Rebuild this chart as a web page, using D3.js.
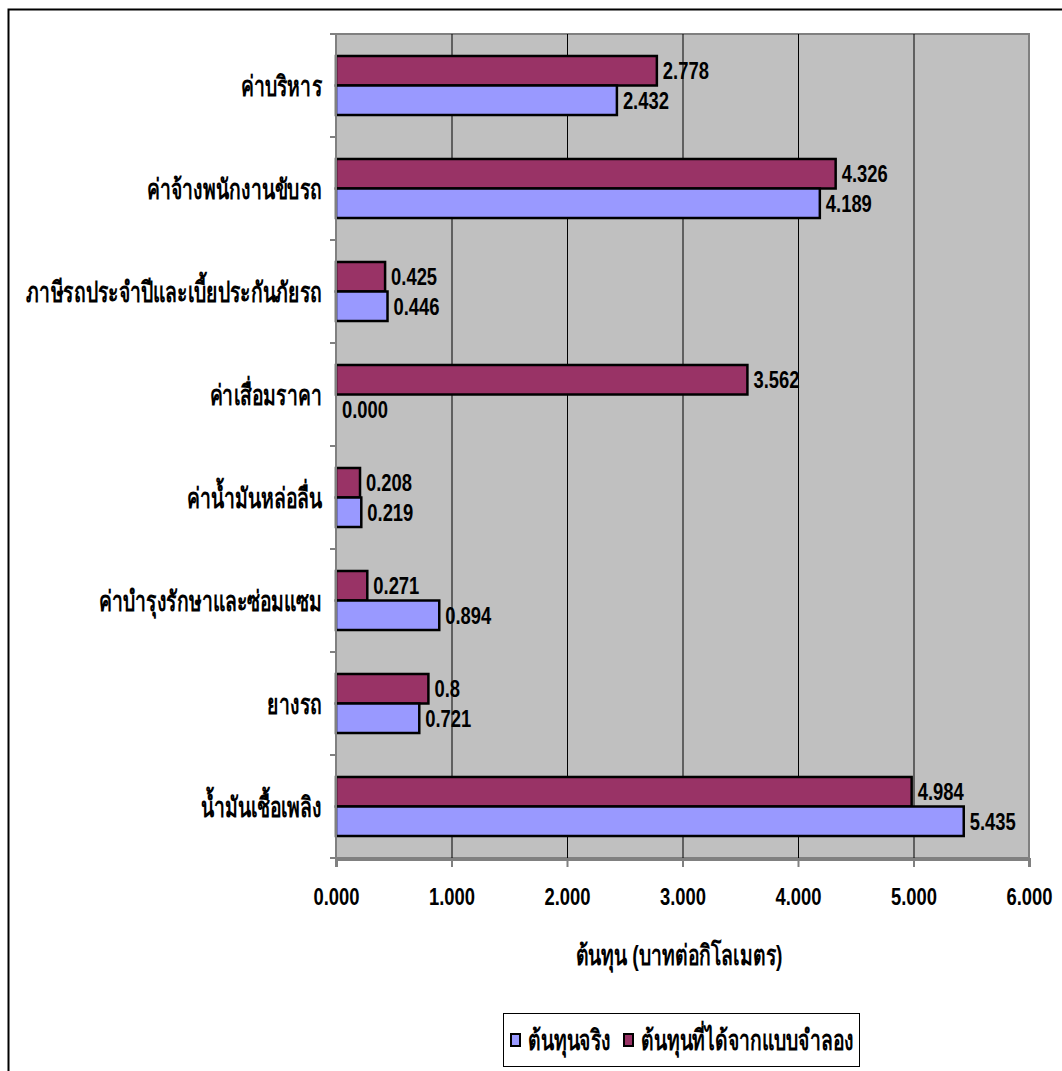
<!DOCTYPE html>
<html>
<head>
<meta charset="utf-8">
<script src="https://cdn.jsdelivr.net/npm/d3@7"></script>
<style>
  body { margin: 0; background: #fff; }
  text { font-family: "Liberation Sans", Arial, sans-serif; font-weight: bold; fill: #000; }
</style>
</head>
<body>
<svg id="chart" width="1062" height="1071"></svg>
<script>
// categories, top to bottom
var categories = [
  'ค่าบริหาร',
  'ค่าจ้างพนักงานขับรถ',
  'ภาษีรถประจำปีและเบี้ยประกันภัยรถ',
  'ค่าเสื่อมราคา',
  'ค่าน้ำมันหล่อลื่น',
  'ค่าบำรุงรักษาและซ่อมแซม',
  'ยางรถ',
  'น้ำมันเชื้อเพลิง'
];
// model cost (red) and actual cost (blue)
var modelValues = [2.778, 4.326, 0.425, 3.562, 0.208, 0.271, 0.8, 4.984];
var modelLabels = ['2.778', '4.326', '0.425', '3.562', '0.208', '0.271', '0.8', '4.984'];
var actualValues = [2.432, 4.189, 0.446, 0.000, 0.219, 0.894, 0.721, 5.435];
var actualLabels = ['2.432', '4.189', '0.446', '0.000', '0.219', '0.894', '0.721', '5.435'];
var xTicks = [0, 1, 2, 3, 4, 5, 6];
var seriesNames = ['ต้นทุนจริง', 'ต้นทุนที่ได้จากแบบจำลอง'];
var axisTitle = 'ต้นทุน (บาทต่อกิโลเมตร)';

var colors = { model: '#993366', actual: '#9999ff' };

// narrow look: numbers like Arial Narrow, thai a bit taller and narrower
var numScale = 'scale(0.8,1)';
var thaiScale = 'scale(0.69,1)';

// plot area
var plot = {left: 336, top: 34, right: 1029, bottom: 858};

var svg = d3.select('#chart');

// outer chart border (only top and left are inside the picture)
svg.append('rect')
  .attr('x', 8.5).attr('y', 9.5)
  .attr('width', 1100).attr('height', 1100)
  .style('fill', 'none').style('stroke', '#000').style('stroke-width', 2);

var x = d3.scaleLinear().domain([0, 6]).range([plot.left, plot.right]);
var y = d3.scaleBand().domain(categories).range([plot.top, plot.bottom])
  .paddingInner(0.427).paddingOuter(0.2135);
var ySub = d3.scaleBand().domain(['model', 'actual']).range([0, y.bandwidth()]);

// background
svg.append('rect')
  .attr('x', plot.left).attr('y', plot.top)
  .attr('width', plot.right - plot.left).attr('height', plot.bottom - plot.top)
  .style('fill', '#c0c0c0').style('stroke', '#808080').style('stroke-width', 2);

// gridlines
svg.append('g').selectAll('line')
  .data(xTicks.slice(1, -1))
  .enter().append('line')
    .attr('x1', function(d) { return x(d) + 0.5; })
    .attr('x2', function(d) { return x(d) + 0.5; })
    .attr('y1', plot.top).attr('y2', plot.bottom)
    .style('stroke', '#000').style('stroke-width', 1);

// bars
var rows = categories.map(function(c, i) {
  return {cat: c, model: modelValues[i], actual: actualValues[i],
          modelLabel: modelLabels[i], actualLabel: actualLabels[i]};
});

['model', 'actual'].forEach(function(key) {
  var g = svg.append('g');
  g.selectAll('rect')
    .data(rows)
    .enter().append('rect')
      .attr('x', x(0))
      .attr('y', function(d) { return y(d.cat) + ySub(key); })
      .attr('width', function(d) { return x(d[key]) - x(0); })
      .attr('height', ySub.bandwidth())
      .style('fill', colors[key])
      .style('stroke', '#000').style('stroke-width', 2.5)
      .style('display', function(d) { return d[key] > 0 ? null : 'none'; });
  g.selectAll('text')
    .data(rows)
    .enter().append('text')
      .attr('transform', function(d) {
        return 'translate(' + (x(d[key]) + 6) + ',' + (y(d.cat) + ySub(key) + ySub.bandwidth() / 2) + ') ' + numScale;
      })
      .attr('dy', '0.36em')
      .style('font-size', '23px')
      .text(function(d) { return d[key + 'Label']; });
});

// left axis
var yAxis = svg.append('g')
  .attr('transform', 'translate(' + plot.left + ',0)');
var tickYs = d3.range(categories.length + 1).map(function(i) { return plot.top + i * y.step(); });
yAxis.append('line')
  .attr('x1', 0).attr('x2', 0).attr('y1', plot.top).attr('y2', plot.bottom + 1)
  .style('stroke', '#808080').style('stroke-width', 2);
yAxis.selectAll('line.tick')
  .data(tickYs)
  .enter().append('line')
    .attr('class', 'tick')
    .attr('x1', -6).attr('x2', 0)
    .attr('y1', function(d) { return d; }).attr('y2', function(d) { return d; })
    .style('stroke', '#808080').style('stroke-width', 2);
yAxis.selectAll('text')
  .data(categories)
  .enter().append('text')
    .attr('transform', function(d) {
      return 'translate(-14,' + (y(d) + y.bandwidth() / 2) + ') ' + thaiScale;
    })
    .attr('dy', '0.36em')
    .attr('text-anchor', 'end')
    .style('font-size', '28px')
    .text(function(d) { return d; });

// bottom axis
var xAxis = svg.append('g')
  .attr('transform', 'translate(0,' + (plot.bottom + 1) + ')')
  .call(d3.axisBottom(x).tickValues(xTicks).tickFormat(d3.format('.3f')).tickSize(8).tickPadding(22));
xAxis.select('.domain').style('stroke', '#808080').style('stroke-width', 3);
xAxis.selectAll('.tick line').style('stroke', '#808080').style('stroke-width', 2);
xAxis.selectAll('.tick text')
  .attr('transform', numScale)
  .style('font-family', '"Liberation Sans", Arial, sans-serif')
  .style('font-weight', 'bold')
  .style('font-size', '23px');

// axis title
svg.append('text')
  .attr('transform', 'translate(679,955) ' + thaiScale)
  .attr('dy', '0.36em')
  .attr('text-anchor', 'middle')
  .style('font-size', '28px')
  .text(axisTitle);

// legend
var legend = svg.append('g');
legend.append('rect')
  .attr('x', 503.5).attr('y', 1013.5).attr('width', 356).attr('height', 53)
  .style('fill', '#fff').style('stroke', '#000').style('stroke-width', 1);
var legendItems = [
  {name: seriesNames[0], color: colors.actual, x: 511},
  {name: seriesNames[1], color: colors.model, x: 624}
];
legendItems.forEach(function(item) {
  legend.append('rect')
    .attr('x', item.x).attr('y', 1034).attr('width', 9).attr('height', 12)
    .style('fill', item.color).style('stroke', '#000').style('stroke-width', 2);
  legend.append('text')
    .attr('transform', 'translate(' + (item.x + 17) + ',1040) ' + thaiScale)
    .attr('dy', '0.36em')
    .style('font-size', '28px')
    .text(item.name);
});
</script>
</body>
</html>
